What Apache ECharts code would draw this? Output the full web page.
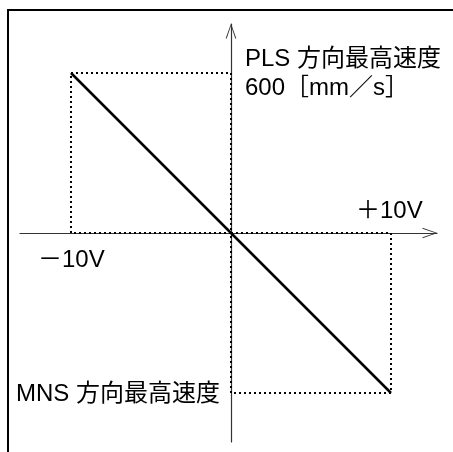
<!DOCTYPE html>
<html>
<head>
<meta charset="utf-8">
<script src="https://cdn.jsdelivr.net/npm/echarts@6/dist/echarts.min.js"></script>
<style>
  html, body { margin: 0; padding: 0; background: #fff; }
  #frame { position: absolute; left: 7px; top: 9px; width: 460px; height: 460px;
           border-top: 2px solid #000; border-left: 2px solid #000; }
  #chart { position: absolute; left: 0; top: 0; width: 453px; height: 452px; }
</style>
</head>
<body>
<div id="frame"></div>
<div id="chart"></div>
<script>
// input voltage [V] and resulting speed [mm/s]
var voltage = [-10, 10];
var speed = [600, -600];
var xRange = [-13.1875, 12.875];
var yRange = [-783.75, 783.75];
var labels = ["PLS 方向最高速度", "600［mm／s］", "＋10V", "－10V", "MNS 方向最高速度"];

var lineData = voltage.map(function (v, i) { return [v, speed[i]]; });
// dotted guide boxes, one per end of the line
function guideBox(v, s) {
  return [[0, 0], [v, 0], [v, s], [0, s], [0, 0]];
}

var chart = echarts.init(document.getElementById("chart"));
var font = "'Liberation Sans', 'Noto Sans CJK JP', sans-serif";
var arrow = "path://M0,14L5,0L10,14L9,14L5,2.2L1,14Z";

var axisLine = {
  onZero: true,
  symbol: ["none", arrow],
  symbolSize: [12, 15],
  symbolOffset: [0, -7],
  lineStyle: { color: "#333", width: 1.2 }
};

function text(str, x, y) {
  return {
    type: "text", x: x, y: y, z: 10,
    style: { text: str, font: "24px " + font, fill: "#000", verticalAlign: "middle" }
  };
}

var option = {
  animation: false,
  grid: { left: 20, right: 16, top: 24, bottom: 10, containLabel: false },
  xAxis: {
    type: "value", min: xRange[0], max: xRange[1],
    axisLine: axisLine,
    axisTick: { show: false }, axisLabel: { show: false }, splitLine: { show: false }
  },
  yAxis: {
    type: "value", min: yRange[0], max: yRange[1],
    axisLine: axisLine,
    axisTick: { show: false }, axisLabel: { show: false }, splitLine: { show: false }
  },
  series: [
    {
      type: "line", data: guideBox(voltage[0], speed[0]), symbol: "none", z: 2,
      lineStyle: { color: "#000", width: 2, type: [2, 3] }
    },
    {
      type: "line", data: guideBox(voltage[1], speed[1]), symbol: "none", z: 2,
      lineStyle: { color: "#000", width: 2, type: [2, 3] }
    },
    {
      type: "line", data: lineData, symbol: "none", z: 3,
      lineStyle: { color: "#000", width: 2.5 }
    }
  ],
  graphic: [
    text(labels[0], 245, 59),
    text(labels[1], 245, 88),
    text(labels[2], 356, 211),
    text(labels[3], 38, 260),
    text(labels[4], 16, 394)
  ]
};

chart.setOption(option);
</script>
</body>
</html>
